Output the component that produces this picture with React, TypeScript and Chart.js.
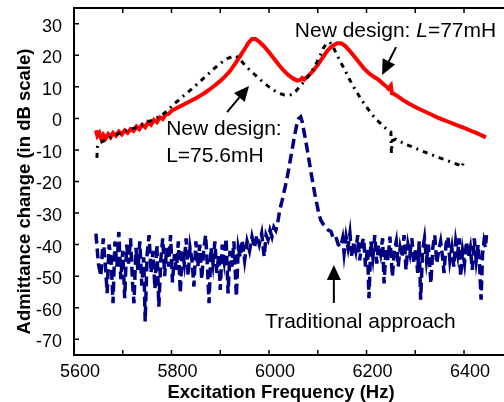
import React, { useEffect, useRef } from 'react';
import { Chart, registerables } from 'chart.js';
Chart.register(...registerables);

const FONT = '"Liberation Sans", Arial, Helvetica, sans-serif';

const xTickLabels = [5600, 5800, 6000, 6200, 6400];
const xTickMarks = [5600, 5700, 5800, 5900, 6000, 6100, 6200, 6300, 6400];
const yTickLabels = [-70, -60, -50, -40, -30, -20, -10, 0, 10, 20, 30];
const X_MIN = 5600;
const X_MAX = 6482;
const Y_MIN = -75;
const Y_MAX = 35;

const redCurve: [number, number][] = [
  [5645, -3.8], [5648, -5.5], [5652, -4.6], [5656, -6.5], [5660, -5.2], [5665, -6.3], [5670, -5], [5675, -6],
  [5680, -4.6], [5686, -5.5], [5692, -4.2], [5698, -5.1], [5704, -3.8], [5710, -4.6], [5716, -3.4], [5722, -4],
  [5728, -2.6], [5734, -3.4], [5740, -2], [5746, -2.8], [5752, -1.2], [5758, -2], [5764, -0.5], [5770, -1.2],
  [5776, 0.3], [5782, -0.2], [5788, 1.2], [5794, 1.4], [5800, 2.4], [5810, 3.2], [5820, 4], [5830, 4.8],
  [5840, 5.6], [5850, 6.4], [5860, 7.3], [5870, 8.3], [5880, 9.4], [5890, 10.6], [5900, 11.9], [5910, 13.3],
  [5920, 15], [5930, 17.2], [5940, 19.6], [5950, 22], [5958, 24], [5965, 25.2], [5972, 25.2], [5980, 24.3],
  [5990, 22.8], [6000, 21], [6010, 19], [6020, 17], [6030, 15.2], [6040, 13.7], [6050, 12.6], [6058, 12],
  [6064, 12.2], [6068, 12.8], [6072, 12.3], [6080, 13.4], [6090, 15], [6100, 17], [6110, 19.3], [6120, 21.5],
  [6130, 23], [6140, 23.8], [6148, 23.8], [6156, 23], [6165, 21.5], [6175, 19.6], [6185, 17.7], [6195, 15.8],
  [6205, 14.3], [6215, 13.2], [6225, 12.2], [6235, 10.8], [6240, 10.2], [6245, 9.4], [6250, 10.4], [6252, 8],
  [6256, 7.8], [6265, 6.9], [6275, 5.8], [6285, 4.9], [6295, 4], [6305, 3.2], [6315, 2.5], [6325, 1.8],
  [6335, 1.1], [6345, 0.3], [6355, -0.3], [6365, -0.9], [6375, -1.5], [6385, -2.1], [6395, -2.7], [6405, -3.3],
  [6415, -4], [6425, -4.6], [6435, -5.3], [6445, -6],
];

const blackCurve: [number, number][] = [
  [5647, -12.5], [5648, -9], [5650, -8], [5655, -7.6], [5665, -6.8], [5675, -6], [5685, -5.3], [5695, -4.6],
  [5705, -4], [5715, -3.5], [5725, -3], [5735, -2.3], [5745, -1.6], [5755, -0.9], [5765, -0.2], [5775, 0.6],
  [5785, 1.6], [5795, 3], [5805, 4.6], [5815, 5.8], [5825, 7.2], [5835, 8.5], [5845, 9.8], [5855, 11.2],
  [5865, 12.6], [5875, 14], [5885, 15.5], [5895, 16.8], [5905, 18], [5915, 19], [5925, 19.6], [5932, 19.8],
  [5940, 18.8], [5950, 17], [5960, 15.4], [5970, 14], [5980, 12.6], [5990, 11.2], [6000, 10], [6010, 8.9],
  [6020, 8], [6030, 7.5], [6040, 7.3], [6048, 7.6], [6055, 8.6], [6065, 10.5], [6075, 12.2], [6085, 14.3],
  [6095, 16.8], [6105, 20], [6112, 22.4], [6118, 23.7], [6124, 24.2], [6130, 23.3], [6137, 20.8], [6145, 18.4],
  [6155, 15.5], [6165, 12.4], [6175, 9.6], [6188, 6.3], [6200, 3.6], [6210, 1.5], [6222, -0.6], [6236, -2.7],
  [6245, -3.8], [6250, -4.3], [6251, -11], [6253, -7], [6260, -6.6], [6270, -7.4], [6280, -8.2], [6290, -8.8],
  [6300, -9.4], [6310, -10.1], [6320, -10.7], [6330, -11.3], [6340, -11.9], [6350, -12.5], [6360, -13],
  [6370, -13.6], [6380, -14.2], [6390, -14.8], [6396, -15.4], [6399, -13.8],
];

const navyCurve: [number, number][] = [
  [5645, -36.5], [5650, -46], [5655, -50], [5660, -38], [5665, -48], [5668, -55.4], [5672, -40], [5676, -44],
  [5680, -58.6], [5684, -39], [5688, -47], [5692, -36], [5696, -51], [5700, -42], [5704, -57], [5708, -40],
  [5712, -46], [5716, -38], [5720, -52], [5723, -58.6], [5727, -41], [5731, -48], [5735, -39], [5739, -53],
  [5743, -44], [5746, -64.4], [5750, -43], [5754, -37], [5758, -49], [5762, -42], [5766, -54], [5770, -40],
  [5774, -59.7], [5778, -45], [5782, -38], [5786, -50], [5790, -41], [5794, -47], [5798, -37], [5802, -52],
  [5806, -43], [5810, -48], [5814, -39], [5818, -55.4], [5822, -42], [5826, -46], [5830, -38], [5834, -50],
  [5838, -41], [5842, -45], [5846, -53.3], [5850, -39], [5854, -47], [5858, -40], [5862, -51], [5866, -42],
  [5870, -37], [5874, -48], [5877, -58.6], [5881, -41], [5885, -46], [5889, -39], [5893, -49], [5897, -43],
  [5900, -54.4], [5904, -40], [5908, -45], [5912, -38], [5916, -55.5], [5920, -42], [5924, -47], [5928, -39],
  [5933, -56.5], [5937, -41], [5941, -44], [5945, -38.5], [5950, -45], [5955, -39], [5960, -42], [5965, -37.5],
  [5970, -41], [5975, -37], [5980, -40], [5985, -36.5], [5990, -43.8], [5994, -37], [5998, -38.5], [6002, -35.5],
  [6006, -37.5], [6010, -34.5], [6014, -35.5], [6018, -33], [6022, -29], [6027, -26], [6032, -22.5], [6037, -19],
  [6041, -15.5], [6045, -12], [6049, -8.5], [6053, -5], [6057, -2], [6061, 0], [6065, 0.5], [6068, -1],
  [6071, -3.5], [6074, -6], [6078, -9.5], [6082, -13.2], [6086, -17], [6090, -20.5], [6094, -24], [6098, -27],
  [6102, -30], [6106, -32.2], [6111, -33.5], [6117, -34.5], [6122, -35.5], [6127, -35.8], [6132, -38], [6137, -37.5],
  [6142, -40], [6147, -40.7], [6151, -38], [6154, -42.8], [6158, -37.5], [6162, -41], [6166, -36.5], [6170, -44],
  [6174, -39], [6178, -42], [6182, -37], [6186, -45], [6190, -40], [6194, -38], [6198, -47], [6202, -41],
  [6205, -57], [6209, -39], [6213, -44], [6217, -37], [6221, -46], [6225, -40], [6229, -43], [6233, -38],
  [6236, -52.3], [6240, -41], [6244, -45], [6248, -37.5], [6253, -50.2], [6257, -42], [6261, -39], [6265, -47],
  [6269, -41], [6273, -44], [6277, -37], [6281, -48], [6285, -40], [6289, -43], [6293, -38], [6297, -46],
  [6301, -41], [6305, -49], [6308, -39], [6311, -57.5], [6315, -42], [6319, -38], [6323, -45], [6327, -40],
  [6332, -52.3], [6336, -41], [6340, -37], [6344, -46], [6348, -42], [6352, -39], [6356, -44], [6359, -49],
  [6363, -40], [6367, -37.5], [6371, -45], [6375, -41], [6379, -47], [6383, -39], [6387, -43], [6390, -38],
  [6393, -50.2], [6397, -42], [6401, -46], [6405, -39], [6409, -44], [6413, -41], [6417, -48], [6421, -38],
  [6425, -45], [6429, -40], [6432, -47], [6435, -57.5], [6438, -43], [6441, -39], [6444, -41], [6446, -37],
];

type Part = { t: string; italic?: boolean };
const textNotes: { parts: Part[]; hz: number; db: number }[] = [
  { parts: [{ t: 'New design: ' }, { t: 'L', italic: true }, { t: '=77mH' }], hz: 6053, db: 25.8 },
  { parts: [{ t: 'New design:' }], hz: 5789, db: -5.25 },
  { parts: [{ t: 'L=75.6mH' }], hz: 5789, db: -13.8 },
  { parts: [{ t: 'Traditional approach' }], hz: 5992, db: -66.4 },
];

const arrowNotes: { from: [number, number]; to: [number, number] }[] = [
  { from: [5914, 2.0], to: [5959, 10.3] },
  { from: [6260.5, 22.6], to: [6232, 13.8] },
  { from: [6133, -58.5], to: [6133, -46.5] },
];

const toXY = (arr: [number, number][]) => arr.map(([x, y]) => ({ x, y }));

const decorPlugin = {
  id: 'decor',
  afterDraw(chart: any) {
    const ctx: CanvasRenderingContext2D = chart.ctx;
    const xs = chart.scales.x;
    const ys = chart.scales.y;
    const L = xs.getPixelForValue(X_MIN);
    const R = xs.getPixelForValue(X_MAX);
    const T = ys.getPixelForValue(Y_MAX);
    const B = ys.getPixelForValue(Y_MIN);
    ctx.save();
    ctx.setLineDash([]);
    ctx.fillStyle = '#000000';
    ctx.strokeStyle = '#000000';
    ctx.lineWidth = 1.5;
    // inward tick marks
    ctx.beginPath();
    for (const v of xTickMarks) {
      const px = xs.getPixelForValue(v);
      ctx.moveTo(px, B);
      ctx.lineTo(px, B - 5);
      ctx.moveTo(px, T);
      ctx.lineTo(px, T + 5);
    }
    for (const v of yTickLabels) {
      const py = ys.getPixelForValue(v);
      ctx.moveTo(L, py);
      ctx.lineTo(L + 5, py);
    }
    ctx.stroke();

    // axis titles
    ctx.font = `bold 18.5px ${FONT}`;
    ctx.textAlign = 'center';
    ctx.textBaseline = 'middle';
    ctx.fillText('Excitation Frequency (Hz)', L + (R - L) / 2 - 8, 393);
    ctx.save();
    ctx.translate(25, (T + B) / 2 + 10);
    ctx.rotate(-Math.PI / 2);
    ctx.fillText('Admittance change (in dB scale)', 0, 0);
    ctx.restore();

    // text notes
    ctx.textAlign = 'left';
    ctx.textBaseline = 'alphabetic';
    for (const n of textNotes) {
      let px = xs.getPixelForValue(n.hz);
      const py = ys.getPixelForValue(n.db);
      for (const p of n.parts) {
        ctx.font = `${p.italic ? 'italic ' : ''}21px ${FONT}`;
        ctx.fillText(p.t, px, py);
        px += ctx.measureText(p.t).width;
      }
    }

    // arrows
    ctx.lineWidth = 2;
    for (const ar of arrowNotes) {
      const x0 = xs.getPixelForValue(ar.from[0]);
      const y0 = ys.getPixelForValue(ar.from[1]);
      const x1 = xs.getPixelForValue(ar.to[0]);
      const y1 = ys.getPixelForValue(ar.to[1]);
      const ang = Math.atan2(y1 - y0, x1 - x0);
      const headLen = 15;
      const headHalf = 7;
      const bx = x1 - headLen * Math.cos(ang);
      const by = y1 - headLen * Math.sin(ang);
      ctx.beginPath();
      ctx.moveTo(x0, y0);
      ctx.lineTo(bx, by);
      ctx.stroke();
      ctx.beginPath();
      ctx.moveTo(x1, y1);
      ctx.lineTo(bx + headHalf * Math.sin(ang), by - headHalf * Math.cos(ang));
      ctx.lineTo(bx - headHalf * Math.sin(ang), by + headHalf * Math.cos(ang));
      ctx.closePath();
      ctx.fill();
    }
    ctx.restore();
  },
};

export default function App() {
  const ref = useRef<HTMLCanvasElement>(null);
  useEffect(() => {
    if (!ref.current) return;
    const chart = new Chart(ref.current, {
      type: 'line',
      data: {
        datasets: [
          {
            label: 'New design L=75.6mH',
            data: toXY(blackCurve),
            borderColor: '#000000',
            borderWidth: 3,
            borderDash: [5, 5, 2, 5],
            pointRadius: 0,
            tension: 0,
          },
          {
            label: 'New design L=77mH',
            data: toXY(redCurve),
            borderColor: '#ff0000',
            borderWidth: 4,
            pointRadius: 0,
            tension: 0,
          },
          {
            label: 'Traditional approach',
            data: toXY(navyCurve),
            borderColor: '#000080',
            borderWidth: 3.5,
            borderDash: [10, 5],
            pointRadius: 0,
            tension: 0,
          },
        ],
      },
      options: {
        animation: false,
        responsive: false,
        devicePixelRatio: 1,
        layout: { padding: { top: 8, right: 0, left: 0, bottom: 0 } },
        plugins: { legend: { display: false }, tooltip: { enabled: false } },
        scales: {
          x: {
            type: 'linear',
            position: 'bottom',
            min: X_MIN,
            max: X_MAX,
            grid: { display: false, drawTicks: false },
            border: { display: true, color: '#000000', width: 2 },
            afterBuildTicks: (s: any) => {
              s.ticks = xTickLabels.map((v) => ({ value: v }));
            },
            afterFit: (s: any) => {
              s.height = 47;
              s.paddingLeft = 0;
              s.paddingRight = 0;
            },
            ticks: {
              font: { family: FONT, size: 18 },
              color: '#000',
              padding: 6,
              labelOffset: 6,
              maxRotation: 0,
              autoSkip: false,
              callback: (v: any) => String(v),
            },
          },
          xTop: {
            type: 'linear',
            position: 'top',
            min: X_MIN,
            max: X_MAX,
            grid: { display: false, drawTicks: false },
            border: { display: true, color: '#000000', width: 2 },
            ticks: { display: false },
            afterFit: (s: any) => {
              s.height = 0;
              s.paddingLeft = 0;
              s.paddingRight = 0;
            },
          },
          y: {
            type: 'linear',
            position: 'left',
            min: Y_MIN,
            max: Y_MAX,
            grid: { display: false, drawTicks: false },
            border: { display: true, color: '#000000', width: 2 },
            afterBuildTicks: (s: any) => {
              s.ticks = yTickLabels.map((v) => ({ value: v }));
            },
            afterFit: (s: any) => {
              s.width = 74;
              s.paddingTop = 0;
              s.paddingBottom = 0;
            },
            ticks: {
              font: { family: FONT, size: 18 },
              color: '#000',
              padding: 12,
              labelOffset: 3,
              autoSkip: false,
              callback: (v: any) => String(v),
            },
          },
        },
      },
      plugins: [decorPlugin],
    });
    return () => chart.destroy();
  }, []);
  return (
    <div style={{ position: 'fixed', left: 0, top: 0, width: 504, height: 402, background: '#fff' }}>
      <canvas ref={ref} width={504} height={402} />
    </div>
  );
}
